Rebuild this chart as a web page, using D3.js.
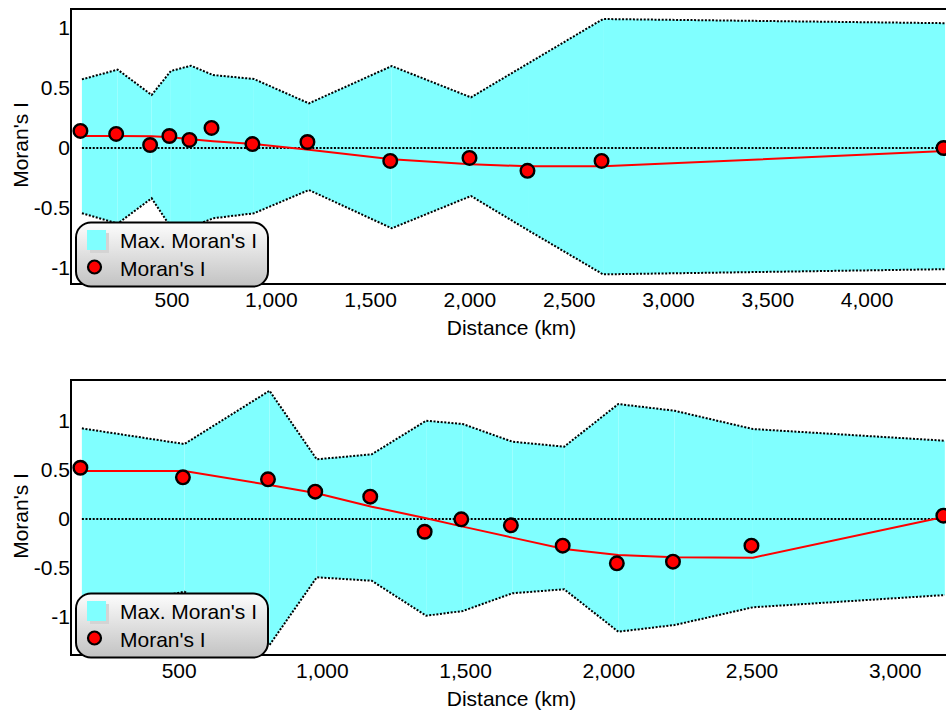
<!DOCTYPE html>
<html>
<head>
<meta charset="utf-8">
<script src="https://cdn.jsdelivr.net/npm/d3@7"></script>
<style>
  body { margin: 0; background: #fff; }
  svg { display: block; }
  text { font-family: "Liberation Sans", Arial, sans-serif; font-size: 21px; fill: #000; }
</style>
</head>
<body>
<svg id="chart" width="946" height="711"></svg>
<script>
// ---------- DATA ----------
// Top panel
const distTop   = [49, 229, 400, 497, 598, 709, 915, 1192, 1609, 2008, 2300, 2673, 4395];
const moranTop  = [0.142, 0.117, 0.025, 0.10, 0.067, 0.167, 0.033, 0.05, -0.108, -0.083, -0.19, -0.108, 0.0];
const fitTop    = [0.10, 0.10, 0.098, 0.089, 0.072, 0.056, 0.033, -0.014, -0.094, -0.136, -0.153, -0.153, -0.025];
const upperTop  = [0.572, 0.653, 0.442, 0.642, 0.686, 0.608, 0.575, 0.372, 0.683, 0.422, 0.709, 1.075, 1.04];
const lowerTop  = [-0.544, -0.63, -0.419, -0.66, -0.66, -0.586, -0.544, -0.35, -0.669, -0.40, -0.69, -1.053, -1.01];
const xTicksTop = [500, 1000, 1500, 2000, 2500, 3000, 3500, 4000];

// Bottom panel
const distBot   = [162, 520, 817, 982, 1174, 1364, 1492, 1665, 1846, 2035, 2231, 2505, 3175];
const moranBot  = [0.523, 0.425, 0.405, 0.279, 0.228, -0.13, -0.003, -0.065, -0.272, -0.452, -0.435, -0.272, 0.034];
const fitBot    = [0.49, 0.49, 0.347, 0.262, 0.126, 0.007, -0.078, -0.19, -0.306, -0.367, -0.391, -0.395, 0.023];
const upperBot  = [0.925, 0.765, 1.309, 0.609, 0.66, 1.003, 0.969, 0.789, 0.738, 1.173, 1.105, 0.918, 0.799];
const lowerBot  = [-0.95, -0.742, -1.286, -0.595, -0.63, -0.987, -0.939, -0.758, -0.717, -1.15, -1.082, -0.901, -0.776];
const xTicksBot = [500, 1000, 1500, 2000, 2500, 3000];

const yTicks = [1, 0.5, 0, -0.5, -1];
const legendLabels = ["Max. Moran's I", "Moran's I"];
const xTitle = "Distance (km)";
const yTitle = "Moran's I";

// ---------- LAYOUT ----------
const svg = d3.select("#chart");
const defs = svg.append("defs");
const grad = defs.append("linearGradient").attr("id", "legGrad")
  .attr("x1", 0).attr("y1", 0).attr("x2", 0).attr("y2", 1);
grad.append("stop").attr("offset", "0%").attr("stop-color", "#fdfdfd");
grad.append("stop").attr("offset", "100%").attr("stop-color", "#c2c2c2");

const panels = [
  { top: 9, bottom: 284, xDomain: [-6, 4430], yRange: [268, 28],
    dist: distTop, moran: moranTop, fit: fitTop, upper: upperTop, lower: lowerTop, xTicks: xTicksTop },
  { top: 380, bottom: 655, xDomain: [124, 3200], yRange: [617, 421],
    dist: distBot, moran: moranBot, fit: fitBot, upper: upperBot, lower: lowerBot, xTicks: xTicksBot }
];
const left = 71, right = 952;

panels.forEach(p => {
  const g = svg.append("g");
  const x = d3.scaleLinear().domain(p.xDomain).range([left, right]);
  const y = d3.scaleLinear().domain([-1, 1]).range(p.yRange);
  const rows = p.dist.map((d, i) => ({ d, m: p.moran[i], f: p.fit[i], u: p.upper[i], l: p.lower[i] }));

  // band as separate segments (gives faint seams)
  const area = d3.area().x(r => x(r.d)).y0(r => y(r.l)).y1(r => y(r.u));
  for (let i = 0; i < rows.length - 1; i++) {
    g.append("path").attr("d", area([rows[i], rows[i + 1]])).attr("fill", "#80ffff");
  }
  // dotted band edges
  const lineU = d3.line().x(r => x(r.d)).y(r => y(r.u));
  const lineL = d3.line().x(r => x(r.d)).y(r => y(r.l));
  [lineU, lineL].forEach(ln => {
    g.append("path").attr("d", ln(rows)).attr("fill", "none")
      .attr("stroke", "#000").attr("stroke-width", 2).attr("stroke-dasharray", "2,1.6");
  });
  // zero line
  g.append("line")
    .attr("x1", x(p.dist[0])).attr("x2", x(p.dist[p.dist.length - 1]))
    .attr("y1", y(0)).attr("y2", y(0))
    .attr("stroke", "#000").attr("stroke-width", 2).attr("stroke-dasharray", "2,1.6");
  // fit line
  const lineF = d3.line().x(r => x(r.d)).y(r => y(r.f));
  g.append("path").attr("d", lineF(rows)).attr("fill", "none")
    .attr("stroke", "#ff0000").attr("stroke-width", 2);
  // points
  g.selectAll("circle.pt").data(rows).join("circle").attr("class", "pt")
    .attr("cx", r => x(r.d) - 1.5).attr("cy", r => y(r.m))
    .attr("r", 6.8).attr("fill", "#ff0000").attr("stroke", "#000").attr("stroke-width", 2.4);

  // frame
  g.append("path")
    .attr("d", `M${right + 10},${p.top} H${left} V${p.bottom} H${right + 10}`)
    .attr("fill", "none").attr("stroke", "#000").attr("stroke-width", 2);

  // axes
  const xAxis = d3.axisBottom(x).tickValues(p.xTicks).tickSize(0).tickPadding(8).tickFormat(d3.format(","));
  const xg = g.append("g").attr("transform", `translate(0,${p.bottom})`).call(xAxis);
  xg.select(".domain").remove();
  xg.selectAll("text").attr("font-size", null).attr("font-family", null).style("font-size", "21px");

  const yAxis = d3.axisLeft(y).tickValues(yTicks).tickSize(0).tickPadding(1).tickFormat(d => String(d));
  const yg = g.append("g").attr("transform", `translate(${left},0)`).call(yAxis);
  yg.select(".domain").remove();
  yg.selectAll("text").attr("font-size", null).attr("font-family", null).style("font-size", "21px");

  // titles
  g.append("text").attr("x", (left + right) / 2).attr("y", p.bottom + 51)
    .attr("text-anchor", "middle").text(xTitle);
  const cy = (p.top + p.bottom) / 2 - 1.5;
  g.append("text").attr("transform", `translate(28,${cy}) rotate(-90)`)
    .attr("text-anchor", "middle").text(yTitle);

  // legend
  const ly = p.top + 213.5;
  const lg = g.append("g");
  lg.append("rect").attr("x", 76).attr("y", ly).attr("width", 192).attr("height", 64)
    .attr("rx", 15).attr("ry", 15).attr("fill", "url(#legGrad)")
    .attr("stroke", "#000").attr("stroke-width", 2);
  lg.append("rect").attr("x", 90).attr("y", ly + 10.5).attr("width", 19).attr("height", 20).attr("fill", "#d4d4d4");
  lg.append("rect").attr("x", 87).attr("y", ly + 7.5).attr("width", 19).attr("height", 20).attr("fill", "#80ffff");
  lg.append("text").attr("x", 120).attr("y", ly + 25.5).text(legendLabels[0]);
  lg.append("circle").attr("cx", 94.5).attr("cy", ly + 44.5).attr("r", 6.5)
    .attr("fill", "#ff0000").attr("stroke", "#000").attr("stroke-width", 2.2);
  lg.append("text").attr("x", 120).attr("y", ly + 53.5).text(legendLabels[1]);
});
</script>
</body>
</html>
